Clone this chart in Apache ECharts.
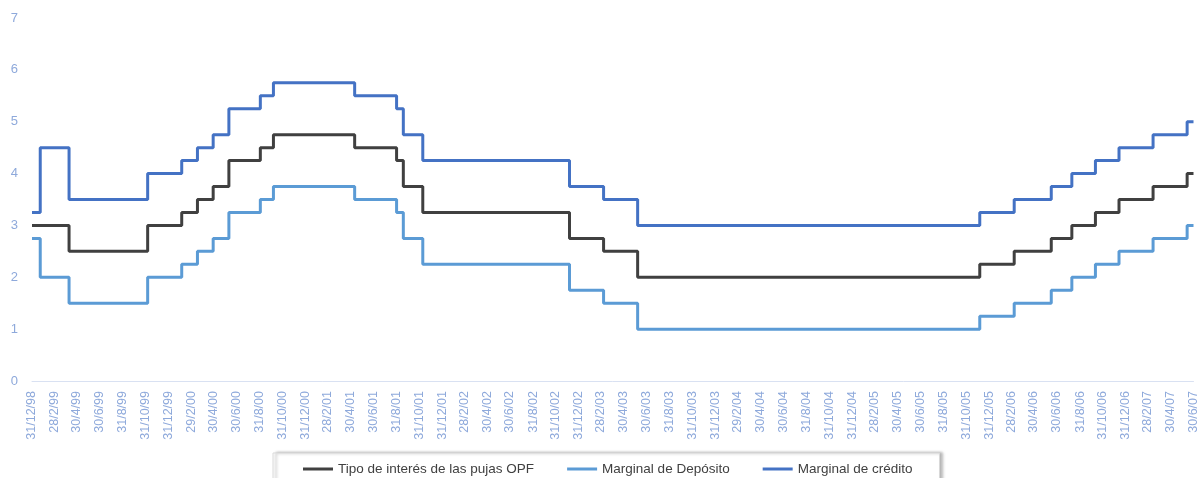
<!DOCTYPE html>
<html>
<head>
<meta charset="utf-8">
<script src="https://cdn.jsdelivr.net/npm/echarts@6/dist/echarts.min.js"></script>
<style>
html, body { margin: 0; padding: 0; background: #fff; }
#chart { width: 1200px; height: 478px; }
</style>
</head>
<body>
<div id="chart"></div>
<script>
// fechas de cambio de tipos (y último día del gráfico)
var changeDates = ['1998-12-31', '1999-01-22', '1999-04-09', '1999-11-05', '2000-02-04', '2000-03-17',
	'2000-04-28', '2000-06-09', '2000-09-01', '2000-10-06', '2001-05-11', '2001-08-31', '2001-09-18',
	'2001-11-09', '2002-12-06', '2003-03-07', '2003-06-06', '2005-12-06', '2006-03-08', '2006-06-15',
	'2006-08-09', '2006-10-11', '2006-12-13', '2007-03-14', '2007-06-13', '2007-06-30'];
var opfRates = [3.00, 3.00, 2.50, 3.00, 3.25, 3.50, 3.75, 4.25, 4.50, 4.75, 4.50, 4.25, 3.75,
	3.25, 2.75, 2.50, 2.00, 2.25, 2.50, 2.75, 3.00, 3.25, 3.50, 3.75, 4.00, 4.00];
var depositRates = [2.75, 2.00, 1.50, 2.00, 2.25, 2.50, 2.75, 3.25, 3.50, 3.75, 3.50, 3.25, 2.75,
	2.25, 1.75, 1.50, 1.00, 1.25, 1.50, 1.75, 2.00, 2.25, 2.50, 2.75, 3.00, 3.00];
var creditRates = [3.25, 4.50, 3.50, 4.00, 4.25, 4.50, 4.75, 5.25, 5.50, 5.75, 5.50, 5.25, 4.75,
	4.25, 3.75, 3.50, 3.00, 3.25, 3.50, 3.75, 4.00, 4.25, 4.50, 4.75, 5.00, 5.00];
var seriesNames = ['Tipo de interés de las pujas OPF', 'Marginal de Depósito', 'Marginal de crédito'];
var yTicks = [0, 1, 2, 3, 4, 5, 6, 7];

// eje diario
var days = [];
var t = Date.UTC(1998, 11, 31);
var tEnd = Date.UTC(2007, 5, 30);
while (t <= tEnd) {
	days.push(new Date(t).toISOString().slice(0, 10));
	t += 86400000;
}

function buildSeries(rates) {
	var out = days.map(function () { return null; });
	changeDates.forEach(function (d, i) {
		out[days.indexOf(d)] = rates[i];
	});
	return out;
}

function isLabelDay(value) {
	var d = new Date(value + 'T00:00:00Z');
	var next = new Date(d.getTime() + 86400000);
	return next.getUTCDate() === 1 && (d.getUTCMonth() + 1) % 2 === 0;
}

var font = "'Liberation Sans', Arial, sans-serif";
var labelColor = '#8EA9DB';

var option = {
	animation: false,
	textStyle: { fontFamily: font },
	grid: { left: 32, right: 5, top: 18, bottom: 97 },
	legend: {
		data: seriesNames,
		left: 273,
		top: 453,
		icon: 'rect',
		itemWidth: 30,
		itemHeight: 3,
		itemGap: 33,
		padding: [9, 27, 12, 30],
		backgroundColor: '#fff',
		borderColor: '#d9d9d9',
		borderWidth: 1,
		shadowColor: 'rgba(0,0,0,0.35)',
		shadowBlur: 3,
		shadowOffsetX: 3,
		textStyle: { color: '#404040', fontSize: 13.5, fontFamily: font }
	},
	xAxis: {
		type: 'category',
		data: days,
		boundaryGap: false,
		axisLine: { lineStyle: { color: '#D9E1F2', width: 1 } },
		axisTick: { show: false },
		axisLabel: {
			rotate: 90,
			margin: 10,
			color: labelColor,
			fontSize: 12.5,
			fontFamily: font,
			interval: function (index, value) { return isLabelDay(value); },
			formatter: function (value) {
				var p = value.split('-');
				return (+p[2]) + '/' + (+p[1]) + '/' + p[0].slice(2);
			}
		}
	},
	yAxis: {
		type: 'value',
		min: yTicks[0],
		max: yTicks[yTicks.length - 1],
		interval: 1,
		axisLine: { show: false },
		axisTick: { show: false },
		splitLine: { show: false },
		axisLabel: { color: labelColor, fontSize: 13, margin: 14, fontFamily: font }
	},
	series: [
		{
			name: seriesNames[0],
			type: 'line',
			step: 'end',
			connectNulls: true,
			symbol: 'none',
			data: buildSeries(opfRates),
			itemStyle: { color: '#404040' },
			lineStyle: { color: '#404040', width: 3 }
		},
		{
			name: seriesNames[1],
			type: 'line',
			step: 'end',
			connectNulls: true,
			symbol: 'none',
			data: buildSeries(depositRates),
			itemStyle: { color: '#5B9BD5' },
			lineStyle: { color: '#5B9BD5', width: 3 }
		},
		{
			name: seriesNames[2],
			type: 'line',
			step: 'end',
			connectNulls: true,
			symbol: 'none',
			data: buildSeries(creditRates),
			itemStyle: { color: '#4472C4' },
			lineStyle: { color: '#4472C4', width: 3 }
		}
	]
};

var myChart = echarts.init(document.getElementById('chart'));
myChart.setOption(option);
</script>
</body>
</html>
